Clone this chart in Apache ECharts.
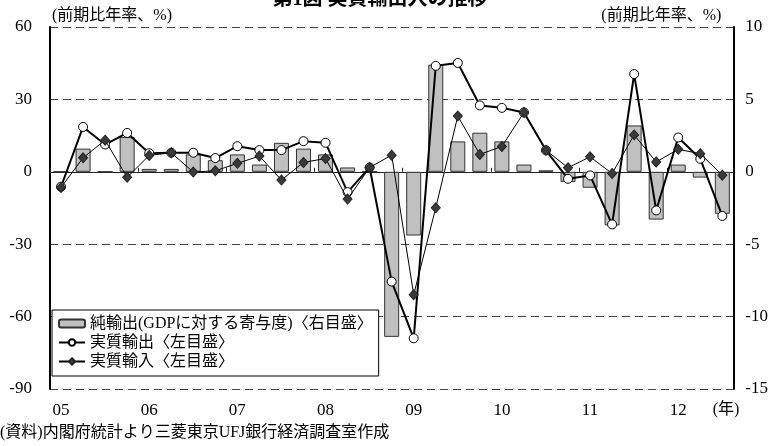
<!DOCTYPE html>
<html>
<head>
<meta charset="utf-8">
<script src="https://cdn.jsdelivr.net/npm/echarts@6/dist/echarts.min.js"></script>
<style>
  html, body { margin: 0; padding: 0; background: #fff; }
  #chart { width: 771px; height: 446px; }
</style>
</head>
<body>
<div id="chart"></div>
<script>
// Quarterly series, 2005 Q1 – 2012 Q3
const categories = [
  '05Q1','05Q2','05Q3','05Q4',
  '06Q1','06Q2','06Q3','06Q4',
  '07Q1','07Q2','07Q3','07Q4',
  '08Q1','08Q2','08Q3','08Q4',
  '09Q1','09Q2','09Q3','09Q4',
  '10Q1','10Q2','10Q3','10Q4',
  '11Q1','11Q2','11Q3','11Q4',
  '12Q1','12Q2','12Q3'
];

// Net exports, contribution to GDP (right scale, %)
const netExports = [
  0.0, 1.6, 0.0, 2.4,
  0.2, 0.2, 1.2, 0.8,
  1.2, 0.5, 2.0, 1.6,
  1.2, 0.3, 0.0, -11.4,
  -4.4, 7.4, 2.1, 2.7,
  2.1, 0.5, 0.1, -0.7,
  -1.1, -3.7, 3.2, -3.3,
  0.5, -0.4, -2.9
];

// Real exports, q/q annualised (left scale, %)
const realExports = [
  -6.2, 18.6, 11.3, 16.1,
  7.7, 7.9, 7.9, 5.7,
  10.6, 9.0, 9.0, 12.7,
  12.0, -8.4, 1.8, -45.5,
  -69.0, 43.9, 45.1, 27.5,
  26.5, 24.6, 8.9, -2.9,
  -1.5, -21.8, 40.5, -16.0,
  14.2, 5.4, -18.3
];

// Real imports, q/q annualised (left scale, %)
const realImports = [
  -6.5, 5.8, 13.1, -2.3,
  6.8, 7.9, -0.1, 0.4,
  3.5, 6.5, -3.4, 3.9,
  5.5, -11.3, 1.8, 6.9,
  -50.9, -14.9, 23.1, 7.2,
  10.5, 24.6, 8.9, 1.7,
  6.2, -0.7, 15.3, 4.1,
  9.3, 7.5, -1.4
];

const leftScale = { min: -90, max: 60, step: 30 };
const rightScale = { min: -15, max: 10, step: 5 };

const seriesNames = ['純輸出(GDPに対する寄与度)〈右目盛〉', '実質輸出〈左目盛〉', '実質輸入〈左目盛〉'];
const axisUnit = '(前期比年率、%)';
const yearUnit = '(年)';
const titleText = '第1図 実質輸出入の推移';
const sourceNote = '(資料)内閣府統計より三菱東京UFJ銀行経済調査室作成';

const FONT = '"Liberation Serif", "Noto Sans CJK JP", serif';

const chart = echarts.init(document.getElementById('chart'), null, { renderer: 'canvas' });

const dashed = { type: [8, 5], color: '#444', width: 1 };

chart.setOption({
  animation: false,
  backgroundColor: '#fff',
  textStyle: { fontFamily: FONT, color: '#000' },
  grid: { left: 50, right: 36, top: 27, bottom: 57 },
  legend: {
    data: seriesNames,
    orient: 'vertical',
    left: 52,
    top: 310,
    itemWidth: 26,
    itemHeight: 8,
    itemGap: 2,
    padding: [5, 6, 6, 6],
    backgroundColor: '#fff',
    borderColor: '#000',
    borderWidth: 1,
    borderRadius: 0,
    textStyle: { fontFamily: FONT, fontSize: 16, color: '#000', lineHeight: 17 }
  },
  xAxis: [
    {
      // zero line with year-boundary ticks
      type: 'category',
      data: categories,
      boundaryGap: true,
      position: 'bottom',
      axisLine: { show: true, onZero: true, lineStyle: { color: '#222', width: 1 } },
      axisTick: {
        show: true, inside: true, length: 4,
        interval: (i) => i % 4 === 0,
        lineStyle: { color: '#222', width: 1 }
      },
      axisLabel: { show: false },
      splitLine: { show: false }
    },
    {
      // year labels along the bottom edge
      type: 'category',
      data: categories,
      boundaryGap: true,
      position: 'bottom',
      axisLine: { show: false, onZero: false },
      axisTick: { show: false },
      axisLabel: {
        interval: (i) => i % 4 === 0,
        formatter: (v) => v.slice(0, 2),
        margin: 13,
        fontSize: 17,
        color: '#000',
        fontFamily: FONT
      },
      splitLine: { show: false }
    }
  ],
  yAxis: [
    {
      type: 'value',
      position: 'left',
      min: leftScale.min, max: leftScale.max, interval: leftScale.step,
      axisLine: { show: true, lineStyle: { color: '#000', width: 2 } },
      axisTick: { show: false },
      axisLabel: { fontSize: 17, color: '#000', margin: 18, fontFamily: FONT },
      splitLine: { show: true, lineStyle: dashed },
      name: axisUnit,
      nameLocation: 'end',
      nameGap: 3,
      nameTextStyle: { align: 'left', fontSize: 16, color: '#000', fontFamily: FONT, padding: [0, 0, 0, 2] }
    },
    {
      type: 'value',
      position: 'right',
      min: rightScale.min, max: rightScale.max, interval: rightScale.step,
      axisLine: { show: true, lineStyle: { color: '#000', width: 2 } },
      axisTick: { show: false },
      axisLabel: { fontSize: 17, color: '#000', margin: 12, fontFamily: FONT },
      splitLine: { show: false },
      name: axisUnit,
      nameLocation: 'end',
      nameGap: 3,
      nameTextStyle: { align: 'right', fontSize: 16, color: '#000', fontFamily: FONT, padding: [0, 12, 0, 0] }
    }
  ],
  series: [
    {
      name: seriesNames[0],
      type: 'bar',
      yAxisIndex: 1,
      data: netExports,
      barWidth: 15,
      itemStyle: { color: '#c0c0c0', borderColor: '#333', borderWidth: 1 },
      z: 2
    },
    {
      name: seriesNames[1],
      type: 'line',
      yAxisIndex: 0,
      data: realExports,
      symbol: 'circle',
      symbolSize: 9,
      showAllSymbol: true,
      lineStyle: { color: '#000', width: 2 },
      itemStyle: { color: '#fff', borderColor: '#000', borderWidth: 1 },
      z: 3
    },
    {
      name: seriesNames[2],
      type: 'line',
      yAxisIndex: 0,
      data: realImports,
      symbol: 'diamond',
      symbolSize: [9, 10],
      showAllSymbol: true,
      lineStyle: { color: '#000', width: 1 },
      itemStyle: { color: '#3a3a3a', borderColor: '#222', borderWidth: 1 },
      z: 4
    }
  ],
  graphic: [
    {
      type: 'text', x: 380, y: 10, z: 10,
      style: { text: titleText, font: 'bold 20px ' + FONT, fill: '#000', textAlign: 'center', textVerticalAlign: 'bottom' }
    },
    {
      type: 'text', x: 726, y: 410, z: 10,
      style: { text: yearUnit, font: '16px ' + FONT, fill: '#000', textAlign: 'center', textVerticalAlign: 'middle' }
    },
    {
      type: 'text', x: 0, y: 433, z: 10,
      style: { text: sourceNote, font: '16px ' + FONT, fill: '#000', textAlign: 'left', textVerticalAlign: 'middle' }
    }
  ]
});
</script>
</body>
</html>
